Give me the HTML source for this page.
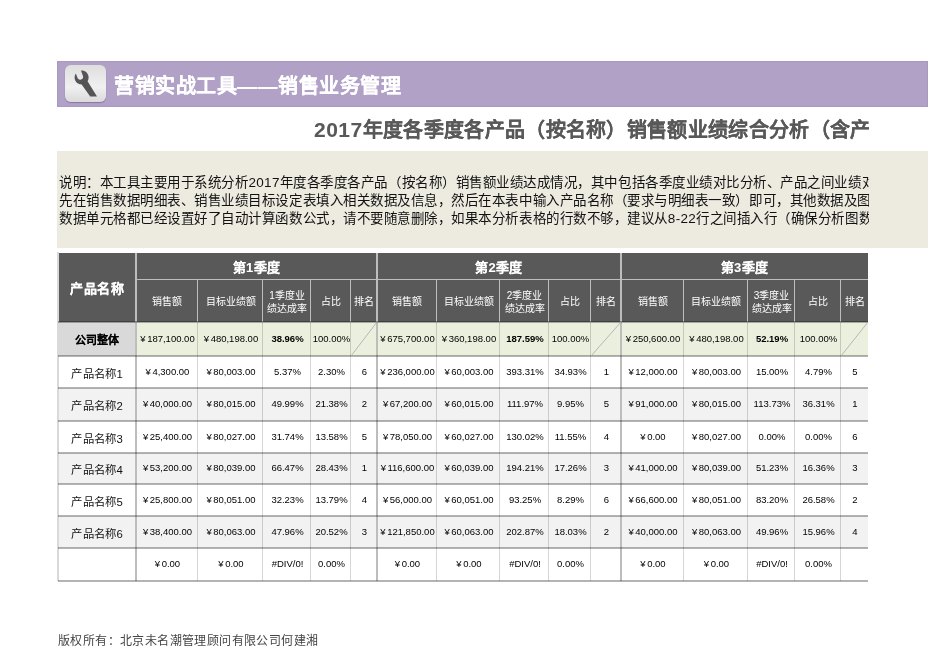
<!DOCTYPE html>
<html lang="zh-CN"><head><meta charset="utf-8">
<style>
html,body{margin:0;padding:0;background:#fff;}
body{width:950px;height:672px;position:relative;overflow:hidden;font-family:"Liberation Sans",sans-serif;}
.b{position:absolute;}
.c{position:absolute;display:flex;align-items:center;justify-content:center;text-align:center;white-space:nowrap;color:#000;}
.h0{color:#fff;font-weight:bold;-webkit-text-stroke:0.05px #fff;font-size:13px;letter-spacing:0.5px;padding-bottom:1px;box-sizing:border-box;}
.h1{color:#fff;font-weight:bold;-webkit-text-stroke:0.05px #fff;font-size:13px;letter-spacing:0.3px;padding-top:0px;box-sizing:border-box;}
.h2{color:#fff;font-size:10px;line-height:12.6px;padding-top:2px;box-sizing:border-box;}
.d{font-size:9.5px;color:#000;padding-bottom:2px;padding-left:1px;box-sizing:border-box;}
.y{margin-right:1.5px;}
.h2.two{padding-top:4px;line-height:12.7px;}
.bold{font-weight:bold;}
.nm{font-size:12px;transform:scale(0.944);color:#111;}
.co{font-weight:bold;-webkit-text-stroke:0.05px #000;font-size:12px;transform:scale(0.917);color:#000;padding-bottom:2px;box-sizing:border-box;}
.dg{letter-spacing:0.45px;font-size:21px;}
.hl{position:absolute;mix-blend-mode:multiply;left:58px;width:810px;height:2px;background:#b4b4b4;}
.hh{position:absolute;height:1px;background:#bdbdbd;}
.vh{position:absolute;width:1px;background:#bdbdbd;}
.vl{position:absolute;mix-blend-mode:multiply;width:1px;background:#d6d6d6;}
.vt{position:absolute;width:2px;background:#bdbdbd;}
.diag{position:absolute;left:0;top:0;}
#bar{position:absolute;left:57px;top:61px;width:871px;height:46px;background:#b1a1c7;box-shadow:inset 0 0 0 1px rgba(80,60,100,0.08);}
#icon{position:absolute;left:65px;top:65px;width:41px;height:37px;border-radius:6px;background:linear-gradient(#dedede,#ececec 45%,#f0f0f0 60%,#dadada);box-shadow:0 1px 1px rgba(60,40,80,0.35);}
#t1{position:absolute;left:114px;top:71px;font-size:20px;letter-spacing:0.5px;font-weight:bold;-webkit-text-stroke:0.05px #fff;color:#fff;white-space:nowrap;line-height:30px;}
#t2wrap{position:absolute;left:58px;top:112px;width:811px;height:36px;overflow:hidden;}
#t2{position:absolute;left:256px;top:0;font-size:20px;letter-spacing:0.33px;font-weight:bold;-webkit-text-stroke:0.05px #595959;color:#595959;white-space:nowrap;line-height:36px;}
#desc{position:absolute;left:57px;top:151px;width:871px;height:97px;background:#edeae0;}
#dwrap{position:absolute;left:59px;top:170px;width:810px;height:64px;overflow:hidden;}
#dtext{position:absolute;left:0;top:2.5px;transform-origin:0 0;transform:scale(0.9643);font-size:14px;letter-spacing:0.03px;line-height:19px;color:#111;white-space:nowrap;}
.dd{letter-spacing:0.35px;}
#foot{position:absolute;left:58px;top:631px;font-family:"Liberation Serif",serif;font-size:12px;letter-spacing:0.4px;color:#444;white-space:nowrap;}
</style></head><body>
<div id="bar"></div>
<div id="icon"><svg width="41" height="37" viewBox="3 3 41 37" style="position:absolute;left:0;top:0">
<path d="M26.57,14.81 L26.30,13.47 L25.77,12.20 L25.01,11.06 L24.04,10.09 L22.90,9.33 L21.63,8.80 L20.29,8.53 L18.98,8.53 L21.04,14.23 L21.10,14.94 L21.01,15.50 L20.76,16.17 L20.44,16.64 L20.04,17.04 L19.57,17.36 L19.04,17.58 L18.48,17.69 L17.92,17.69 L17.36,17.58 L16.83,17.36 L16.36,17.04 L15.87,16.53 L15.47,15.82 L13.86,11.49 L13.27,12.51 L12.81,13.80 L12.61,15.16 L12.63,16.19 L12.81,17.20 L13.13,18.18 L13.60,19.10 L14.19,19.94 L15.16,20.91 L15.71,21.32 L16.61,21.83 L17.57,22.20 L18.23,22.37 L19.62,22.50 L28.20,34.40 L35.00,34.40 L25.55,19.18 L26.07,18.18 L26.39,17.20 L26.59,15.84Z" fill="#555"/>
</svg></div>
<div id="t1">营销实战工具——销售业务管理</div>
<div id="t2wrap"><div id="t2"><span class="dg">2017</span>年度各季度各产品（按名称）销售额业绩综合分析（含产品排名）</div></div>
<div id="desc"></div>
<div id="dwrap"><div id="dtext">说明：本工具主要用于系统分析<span class="dd">2017</span>年度各季度各产品（按名称）销售额业绩达成情况，其中包括各季度业绩对比分析、产品之间业绩对比分析<br>先在销售数据明细表、销售业绩目标设定表填入相关数据及信息，然后在本表中输入产品名称（要求与明细表一致）即可，其他数据及图表<br>数据单元格都已经设置好了自动计算函数公式，请不要随意删除，如果本分析表格的行数不够，建议从<span class="dd">8-22</span>行之间插入行（确保分析图数据</div></div>
<div class="b" style="left:58px;top:253px;width:810px;height:69px;background:#595959"></div>
<div class="b" style="left:58px;top:322px;width:78px;height:34px;background:#d9d9d9"></div>
<div class="b" style="left:136px;top:322px;width:732px;height:34px;background:#ebf0de"></div>
<div class="b" style="left:58px;top:356px;width:810px;height:32px;background:#ffffff"></div>
<div class="b" style="left:58px;top:388px;width:810px;height:33px;background:#f2f2f2"></div>
<div class="b" style="left:58px;top:421px;width:810px;height:32px;background:#ffffff"></div>
<div class="b" style="left:58px;top:453px;width:810px;height:31px;background:#f2f2f2"></div>
<div class="b" style="left:58px;top:484px;width:810px;height:32px;background:#ffffff"></div>
<div class="b" style="left:58px;top:516px;width:810px;height:32px;background:#f2f2f2"></div>
<div class="b" style="left:58px;top:548px;width:810px;height:33px;background:#ffffff"></div>
<div class="c h0" style="left:58px;top:253px;width:78px;height:69px">产品名称</div>
<div class="c h1" style="left:136px;top:253px;width:241px;height:27px">第1季度</div>
<div class="c h2" style="left:136px;top:280px;width:62px;height:42px">销售额</div>
<div class="c h2" style="left:198px;top:280px;width:65px;height:42px">目标业绩额</div>
<div class="c h2 two" style="left:263px;top:280px;width:48px;height:42px">1季度业<br>绩达成率</div>
<div class="c h2" style="left:311px;top:280px;width:40px;height:42px">占比</div>
<div class="c h2" style="left:351px;top:280px;width:26px;height:42px">排名</div>
<div class="c d" style="left:136px;top:322px;width:62px;height:34px"><span class="y">¥</span>187,100.00</div>
<div class="c d" style="left:198px;top:322px;width:65px;height:34px"><span class="y">¥</span>480,198.00</div>
<div class="c d bold" style="left:263px;top:322px;width:48px;height:34px">38.96%</div>
<div class="c d" style="left:311px;top:322px;width:40px;height:34px">100.00%</div>
<div class="c d" style="left:136px;top:356px;width:62px;height:32px"><span class="y">¥</span>4,300.00</div>
<div class="c d" style="left:198px;top:356px;width:65px;height:32px"><span class="y">¥</span>80,003.00</div>
<div class="c d" style="left:263px;top:356px;width:48px;height:32px">5.37%</div>
<div class="c d" style="left:311px;top:356px;width:40px;height:32px">2.30%</div>
<div class="c d" style="left:351px;top:356px;width:26px;height:32px">6</div>
<div class="c d" style="left:136px;top:388px;width:62px;height:33px"><span class="y">¥</span>40,000.00</div>
<div class="c d" style="left:198px;top:388px;width:65px;height:33px"><span class="y">¥</span>80,015.00</div>
<div class="c d" style="left:263px;top:388px;width:48px;height:33px">49.99%</div>
<div class="c d" style="left:311px;top:388px;width:40px;height:33px">21.38%</div>
<div class="c d" style="left:351px;top:388px;width:26px;height:33px">2</div>
<div class="c d" style="left:136px;top:421px;width:62px;height:32px"><span class="y">¥</span>25,400.00</div>
<div class="c d" style="left:198px;top:421px;width:65px;height:32px"><span class="y">¥</span>80,027.00</div>
<div class="c d" style="left:263px;top:421px;width:48px;height:32px">31.74%</div>
<div class="c d" style="left:311px;top:421px;width:40px;height:32px">13.58%</div>
<div class="c d" style="left:351px;top:421px;width:26px;height:32px">5</div>
<div class="c d" style="left:136px;top:453px;width:62px;height:31px"><span class="y">¥</span>53,200.00</div>
<div class="c d" style="left:198px;top:453px;width:65px;height:31px"><span class="y">¥</span>80,039.00</div>
<div class="c d" style="left:263px;top:453px;width:48px;height:31px">66.47%</div>
<div class="c d" style="left:311px;top:453px;width:40px;height:31px">28.43%</div>
<div class="c d" style="left:351px;top:453px;width:26px;height:31px">1</div>
<div class="c d" style="left:136px;top:484px;width:62px;height:32px"><span class="y">¥</span>25,800.00</div>
<div class="c d" style="left:198px;top:484px;width:65px;height:32px"><span class="y">¥</span>80,051.00</div>
<div class="c d" style="left:263px;top:484px;width:48px;height:32px">32.23%</div>
<div class="c d" style="left:311px;top:484px;width:40px;height:32px">13.79%</div>
<div class="c d" style="left:351px;top:484px;width:26px;height:32px">4</div>
<div class="c d" style="left:136px;top:516px;width:62px;height:32px"><span class="y">¥</span>38,400.00</div>
<div class="c d" style="left:198px;top:516px;width:65px;height:32px"><span class="y">¥</span>80,063.00</div>
<div class="c d" style="left:263px;top:516px;width:48px;height:32px">47.96%</div>
<div class="c d" style="left:311px;top:516px;width:40px;height:32px">20.52%</div>
<div class="c d" style="left:351px;top:516px;width:26px;height:32px">3</div>
<div class="c d" style="left:136px;top:548px;width:62px;height:33px"><span class="y">¥</span>0.00</div>
<div class="c d" style="left:198px;top:548px;width:65px;height:33px"><span class="y">¥</span>0.00</div>
<div class="c d" style="left:263px;top:548px;width:48px;height:33px">#DIV/0!</div>
<div class="c d" style="left:311px;top:548px;width:40px;height:33px">0.00%</div>
<div class="c d" style="left:351px;top:548px;width:26px;height:33px"></div>
<div class="c h1" style="left:377px;top:253px;width:244px;height:27px">第2季度</div>
<div class="c h2" style="left:377px;top:280px;width:60px;height:42px">销售额</div>
<div class="c h2" style="left:437px;top:280px;width:63px;height:42px">目标业绩额</div>
<div class="c h2 two" style="left:500px;top:280px;width:49px;height:42px">2季度业<br>绩达成率</div>
<div class="c h2" style="left:549px;top:280px;width:42px;height:42px">占比</div>
<div class="c h2" style="left:591px;top:280px;width:30px;height:42px">排名</div>
<div class="c d" style="left:377px;top:322px;width:60px;height:34px"><span class="y">¥</span>675,700.00</div>
<div class="c d" style="left:437px;top:322px;width:63px;height:34px"><span class="y">¥</span>360,198.00</div>
<div class="c d bold" style="left:500px;top:322px;width:49px;height:34px">187.59%</div>
<div class="c d" style="left:549px;top:322px;width:42px;height:34px">100.00%</div>
<div class="c d" style="left:377px;top:356px;width:60px;height:32px"><span class="y">¥</span>236,000.00</div>
<div class="c d" style="left:437px;top:356px;width:63px;height:32px"><span class="y">¥</span>60,003.00</div>
<div class="c d" style="left:500px;top:356px;width:49px;height:32px">393.31%</div>
<div class="c d" style="left:549px;top:356px;width:42px;height:32px">34.93%</div>
<div class="c d" style="left:591px;top:356px;width:30px;height:32px">1</div>
<div class="c d" style="left:377px;top:388px;width:60px;height:33px"><span class="y">¥</span>67,200.00</div>
<div class="c d" style="left:437px;top:388px;width:63px;height:33px"><span class="y">¥</span>60,015.00</div>
<div class="c d" style="left:500px;top:388px;width:49px;height:33px">111.97%</div>
<div class="c d" style="left:549px;top:388px;width:42px;height:33px">9.95%</div>
<div class="c d" style="left:591px;top:388px;width:30px;height:33px">5</div>
<div class="c d" style="left:377px;top:421px;width:60px;height:32px"><span class="y">¥</span>78,050.00</div>
<div class="c d" style="left:437px;top:421px;width:63px;height:32px"><span class="y">¥</span>60,027.00</div>
<div class="c d" style="left:500px;top:421px;width:49px;height:32px">130.02%</div>
<div class="c d" style="left:549px;top:421px;width:42px;height:32px">11.55%</div>
<div class="c d" style="left:591px;top:421px;width:30px;height:32px">4</div>
<div class="c d" style="left:377px;top:453px;width:60px;height:31px"><span class="y">¥</span>116,600.00</div>
<div class="c d" style="left:437px;top:453px;width:63px;height:31px"><span class="y">¥</span>60,039.00</div>
<div class="c d" style="left:500px;top:453px;width:49px;height:31px">194.21%</div>
<div class="c d" style="left:549px;top:453px;width:42px;height:31px">17.26%</div>
<div class="c d" style="left:591px;top:453px;width:30px;height:31px">3</div>
<div class="c d" style="left:377px;top:484px;width:60px;height:32px"><span class="y">¥</span>56,000.00</div>
<div class="c d" style="left:437px;top:484px;width:63px;height:32px"><span class="y">¥</span>60,051.00</div>
<div class="c d" style="left:500px;top:484px;width:49px;height:32px">93.25%</div>
<div class="c d" style="left:549px;top:484px;width:42px;height:32px">8.29%</div>
<div class="c d" style="left:591px;top:484px;width:30px;height:32px">6</div>
<div class="c d" style="left:377px;top:516px;width:60px;height:32px"><span class="y">¥</span>121,850.00</div>
<div class="c d" style="left:437px;top:516px;width:63px;height:32px"><span class="y">¥</span>60,063.00</div>
<div class="c d" style="left:500px;top:516px;width:49px;height:32px">202.87%</div>
<div class="c d" style="left:549px;top:516px;width:42px;height:32px">18.03%</div>
<div class="c d" style="left:591px;top:516px;width:30px;height:32px">2</div>
<div class="c d" style="left:377px;top:548px;width:60px;height:33px"><span class="y">¥</span>0.00</div>
<div class="c d" style="left:437px;top:548px;width:63px;height:33px"><span class="y">¥</span>0.00</div>
<div class="c d" style="left:500px;top:548px;width:49px;height:33px">#DIV/0!</div>
<div class="c d" style="left:549px;top:548px;width:42px;height:33px">0.00%</div>
<div class="c d" style="left:591px;top:548px;width:30px;height:33px"></div>
<div class="c h1" style="left:621px;top:253px;width:247px;height:27px">第3季度</div>
<div class="c h2" style="left:621px;top:280px;width:63px;height:42px">销售额</div>
<div class="c h2" style="left:684px;top:280px;width:64px;height:42px">目标业绩额</div>
<div class="c h2 two" style="left:748px;top:280px;width:47px;height:42px">3季度业<br>绩达成率</div>
<div class="c h2" style="left:795px;top:280px;width:46px;height:42px">占比</div>
<div class="c h2" style="left:841px;top:280px;width:27px;height:42px">排名</div>
<div class="c d" style="left:621px;top:322px;width:63px;height:34px"><span class="y">¥</span>250,600.00</div>
<div class="c d" style="left:684px;top:322px;width:64px;height:34px"><span class="y">¥</span>480,198.00</div>
<div class="c d bold" style="left:748px;top:322px;width:47px;height:34px">52.19%</div>
<div class="c d" style="left:795px;top:322px;width:46px;height:34px">100.00%</div>
<div class="c d" style="left:621px;top:356px;width:63px;height:32px"><span class="y">¥</span>12,000.00</div>
<div class="c d" style="left:684px;top:356px;width:64px;height:32px"><span class="y">¥</span>80,003.00</div>
<div class="c d" style="left:748px;top:356px;width:47px;height:32px">15.00%</div>
<div class="c d" style="left:795px;top:356px;width:46px;height:32px">4.79%</div>
<div class="c d" style="left:841px;top:356px;width:27px;height:32px">5</div>
<div class="c d" style="left:621px;top:388px;width:63px;height:33px"><span class="y">¥</span>91,000.00</div>
<div class="c d" style="left:684px;top:388px;width:64px;height:33px"><span class="y">¥</span>80,015.00</div>
<div class="c d" style="left:748px;top:388px;width:47px;height:33px">113.73%</div>
<div class="c d" style="left:795px;top:388px;width:46px;height:33px">36.31%</div>
<div class="c d" style="left:841px;top:388px;width:27px;height:33px">1</div>
<div class="c d" style="left:621px;top:421px;width:63px;height:32px"><span class="y">¥</span>0.00</div>
<div class="c d" style="left:684px;top:421px;width:64px;height:32px"><span class="y">¥</span>80,027.00</div>
<div class="c d" style="left:748px;top:421px;width:47px;height:32px">0.00%</div>
<div class="c d" style="left:795px;top:421px;width:46px;height:32px">0.00%</div>
<div class="c d" style="left:841px;top:421px;width:27px;height:32px">6</div>
<div class="c d" style="left:621px;top:453px;width:63px;height:31px"><span class="y">¥</span>41,000.00</div>
<div class="c d" style="left:684px;top:453px;width:64px;height:31px"><span class="y">¥</span>80,039.00</div>
<div class="c d" style="left:748px;top:453px;width:47px;height:31px">51.23%</div>
<div class="c d" style="left:795px;top:453px;width:46px;height:31px">16.36%</div>
<div class="c d" style="left:841px;top:453px;width:27px;height:31px">3</div>
<div class="c d" style="left:621px;top:484px;width:63px;height:32px"><span class="y">¥</span>66,600.00</div>
<div class="c d" style="left:684px;top:484px;width:64px;height:32px"><span class="y">¥</span>80,051.00</div>
<div class="c d" style="left:748px;top:484px;width:47px;height:32px">83.20%</div>
<div class="c d" style="left:795px;top:484px;width:46px;height:32px">26.58%</div>
<div class="c d" style="left:841px;top:484px;width:27px;height:32px">2</div>
<div class="c d" style="left:621px;top:516px;width:63px;height:32px"><span class="y">¥</span>40,000.00</div>
<div class="c d" style="left:684px;top:516px;width:64px;height:32px"><span class="y">¥</span>80,063.00</div>
<div class="c d" style="left:748px;top:516px;width:47px;height:32px">49.96%</div>
<div class="c d" style="left:795px;top:516px;width:46px;height:32px">15.96%</div>
<div class="c d" style="left:841px;top:516px;width:27px;height:32px">4</div>
<div class="c d" style="left:621px;top:548px;width:63px;height:33px"><span class="y">¥</span>0.00</div>
<div class="c d" style="left:684px;top:548px;width:64px;height:33px"><span class="y">¥</span>0.00</div>
<div class="c d" style="left:748px;top:548px;width:47px;height:33px">#DIV/0!</div>
<div class="c d" style="left:795px;top:548px;width:46px;height:33px">0.00%</div>
<div class="c d" style="left:841px;top:548px;width:27px;height:33px"></div>
<div class="c nm co" style="left:58px;top:322px;width:78px;height:34px">公司整体</div>
<div class="c nm" style="left:58px;top:356px;width:78px;height:32px">产品名称1</div>
<div class="c nm" style="left:58px;top:388px;width:78px;height:33px">产品名称2</div>
<div class="c nm" style="left:58px;top:421px;width:78px;height:32px">产品名称3</div>
<div class="c nm" style="left:58px;top:453px;width:78px;height:31px">产品名称4</div>
<div class="c nm" style="left:58px;top:484px;width:78px;height:32px">产品名称5</div>
<div class="c nm" style="left:58px;top:516px;width:78px;height:32px">产品名称6</div>
<div class="c nm" style="left:58px;top:548px;width:78px;height:33px"></div>
<div class="hh" style="left:136px;width:241px;top:279px"></div>
<div class="hh" style="left:377px;width:244px;top:279px"></div>
<div class="hh" style="left:621px;width:247px;top:279px"></div>
<div class="vh" style="left:197px;top:280px;height:42px"></div>
<div class="vl" style="left:197px;top:322px;height:259px"></div>
<div class="vh" style="left:262px;top:280px;height:42px"></div>
<div class="vl" style="left:262px;top:322px;height:259px"></div>
<div class="vh" style="left:310px;top:280px;height:42px"></div>
<div class="vl" style="left:310px;top:322px;height:259px"></div>
<div class="vh" style="left:350px;top:280px;height:42px"></div>
<div class="vl" style="left:350px;top:322px;height:259px"></div>
<div class="vh" style="left:436px;top:280px;height:42px"></div>
<div class="vl" style="left:436px;top:322px;height:259px"></div>
<div class="vh" style="left:499px;top:280px;height:42px"></div>
<div class="vl" style="left:499px;top:322px;height:259px"></div>
<div class="vh" style="left:548px;top:280px;height:42px"></div>
<div class="vl" style="left:548px;top:322px;height:259px"></div>
<div class="vh" style="left:590px;top:280px;height:42px"></div>
<div class="vl" style="left:590px;top:322px;height:259px"></div>
<div class="vh" style="left:683px;top:280px;height:42px"></div>
<div class="vl" style="left:683px;top:322px;height:259px"></div>
<div class="vh" style="left:747px;top:280px;height:42px"></div>
<div class="vl" style="left:747px;top:322px;height:259px"></div>
<div class="vh" style="left:794px;top:280px;height:42px"></div>
<div class="vl" style="left:794px;top:322px;height:259px"></div>
<div class="vh" style="left:840px;top:280px;height:42px"></div>
<div class="vl" style="left:840px;top:322px;height:259px"></div>
<div class="vt" style="left:135px;top:253px;height:328px"></div>
<div class="vt" style="left:376px;top:253px;height:328px"></div>
<div class="vt" style="left:620px;top:253px;height:328px"></div>
<div class="vt" style="left:57px;top:252px;height:329px;background:#d9d9d9"></div>
<div class="hl" style="top:321px"></div>
<div class="hl" style="top:355px"></div>
<div class="hl" style="top:387px"></div>
<div class="hl" style="top:420px"></div>
<div class="hl" style="top:452px"></div>
<div class="hl" style="top:483px"></div>
<div class="hl" style="top:515px"></div>
<div class="hl" style="top:547px"></div>
<div class="hl" style="top:580px"></div>
<svg class="diag" width="950" height="672" viewBox="0 0 950 672"><line x1="351" y1="356" x2="377" y2="322" stroke="#a8a8a8" stroke-width="0.8"/><line x1="591" y1="356" x2="621" y2="322" stroke="#a8a8a8" stroke-width="0.8"/><line x1="841" y1="356" x2="868" y2="322" stroke="#a8a8a8" stroke-width="0.8"/></svg>
<div id="foot">版权所有：北京未名潮管理顾问有限公司何建湘</div>
</body></html>
